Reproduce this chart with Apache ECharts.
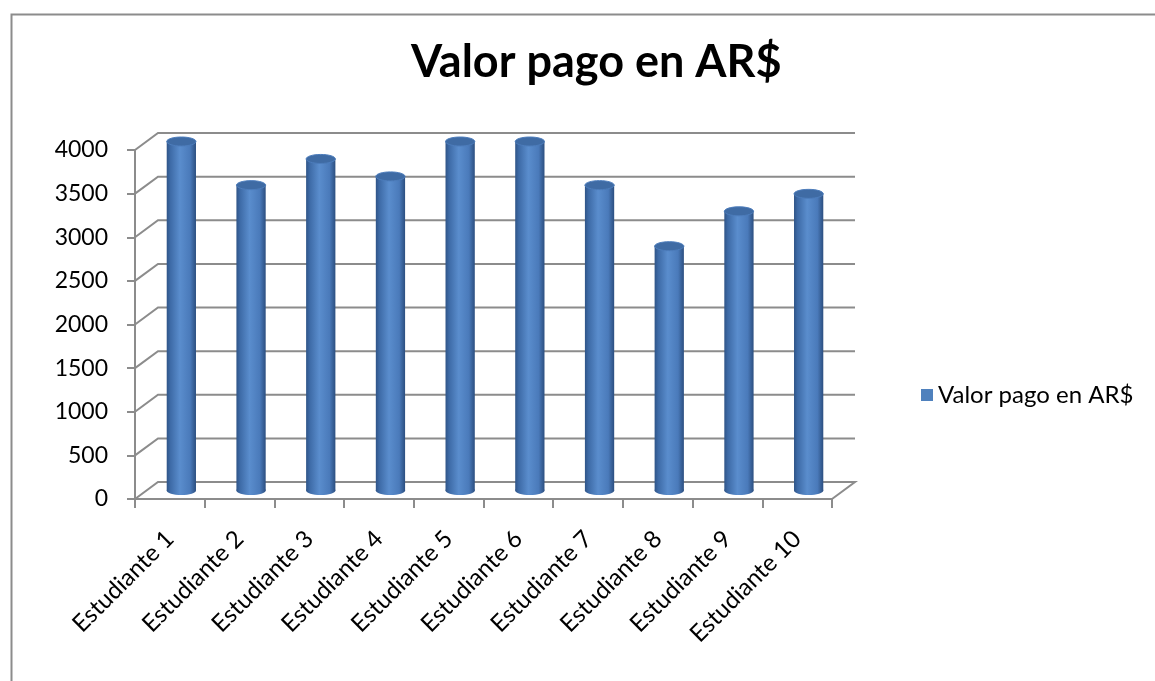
<!DOCTYPE html>
<html lang="es">

<head>
    <meta charset="UTF-8">
    <title>Valor pago en AR$</title>
    <script src="https://cdn.jsdelivr.net/npm/echarts@6/dist/echarts.min.js"></script>
</head>

<body style="margin:0">

    <div id='main' style="width: 1155px;height: 681px;"></div>

    <script>
        // datos
        var categorias = ['Estudiante 1', 'Estudiante 2', 'Estudiante 3', 'Estudiante 4', 'Estudiante 5',
            'Estudiante 6', 'Estudiante 7', 'Estudiante 8', 'Estudiante 9', 'Estudiante 10'];
        var valores = [4000, 3500, 3800, 3600, 4000, 4000, 3500, 2800, 3200, 3400];
        var ticksY = [0, 500, 1000, 1500, 2000, 2500, 3000, 3500, 4000];
        var nombreSerie = 'Valor pago en AR$';

        // profundidad 3D (px)
        var DX = 23, DY = 17;
        var fuente = 'Lato, "Open Sans", sans-serif';

        var myChart = echarts.init(document.getElementById('main'));

        // paredes / lineas de fondo
        function dibujarRejilla(params, api) {
            var v = api.value(0);
            var n = categorias.length;
            var a = api.coord([0, v]);
            var b = api.coord([n, v]);
            var puntos = [a, [a[0] + DX, a[1] - DY], [b[0] + DX, b[1] - DY]];
            if (v === 0) {
                puntos.push(b);
            }
            return {
                type: 'polyline',
                shape: { points: puntos },
                style: { stroke: '#8c8c8c', lineWidth: 2, fill: null }
            };
        }

        // cilindros
        function dibujarCilindro(params, api) {
            var i = api.value(0);
            var v = api.value(1);
            var top = api.coord([i + 0.5, v]);
            var base = api.coord([i + 0.5, 0]);
            var banda = api.size([1, 0])[0];
            var rx = banda * 0.21;
            var ry = 4.5;
            var cx = top[0] + DX / 2;
            var yTop = top[1] - DY / 2;
            var yBase = base[1] - DY / 2;
            var lado = new echarts.graphic.LinearGradient(0, 0, 1, 0, [
                { offset: 0, color: '#2f5487' },
                { offset: 0.12, color: '#3d6aa6' },
                { offset: 0.45, color: '#5a8dcd' },
                { offset: 0.8, color: '#4a7aba' },
                { offset: 1, color: '#2c4f80' }
            ]);
            return {
                type: 'group',
                children: [
                    {
                        type: 'ellipse',
                        shape: { cx: cx, cy: yBase, rx: rx, ry: ry },
                        style: { fill: lado }
                    },
                    {
                        type: 'rect',
                        shape: { x: cx - rx, y: yTop, width: rx * 2, height: yBase - yTop },
                        style: { fill: lado }
                    },
                    {
                        type: 'ellipse',
                        shape: { cx: cx, cy: yTop, rx: rx, ry: ry },
                        style: { fill: '#3f6ba4', stroke: '#4d7dbc', lineWidth: 1 }
                    }
                ]
            };
        }

        var datosBarras = valores.map(function (v, i) { return [i, v]; });

        var option = {
            backgroundColor: '#fff',
            title: {
                text: nombreSerie,
                left: 406,
                top: 35,
                textStyle: { fontFamily: fuente, fontSize: 45, fontWeight: 'bold', color: '#000' }
            },
            legend: {
                data: [nombreSerie],
                orient: 'vertical',
                left: 916,
                top: 378,
                icon: 'rect',
                itemWidth: 12,
                itemHeight: 12,
                itemGap: 6,
                textStyle: { fontFamily: fuente, fontSize: 24, color: '#000' }
            },
            graphic: [{
                type: 'rect',
                left: 9,
                top: 12,
                shape: { width: 1200, height: 700 },
                style: { fill: null, stroke: '#8c8c8c', lineWidth: 2 }
            }],
            grid: { left: 135, right: 323, top: 150, bottom: 182 },
            xAxis: [{
                type: 'category',
                data: categorias,
                axisLine: { lineStyle: { color: '#8c8c8c', width: 2 } },
                axisTick: { show: true, interval: 0, length: 9, lineStyle: { color: '#8c8c8c', width: 2 } },
                axisLabel: { interval: 0, rotate: 45, margin: 36, fontFamily: fuente, fontSize: 24, color: '#000' }
            }, {
                type: 'value',
                min: 0,
                max: categorias.length,
                show: false
            }],
            yAxis: {
                type: 'value',
                min: 0,
                max: 4000,
                interval: 500,
                axisLine: { show: true, lineStyle: { color: '#8c8c8c', width: 2 } },
                axisTick: { show: true, length: 8, lineStyle: { color: '#8c8c8c', width: 2 } },
                splitLine: { show: false },
                axisLabel: {
                    margin: 27, fontFamily: fuente, fontSize: 23, color: '#000',
                    formatter: function (v) { return String(v); }
                }
            },
            series: [{
                name: 'rejilla',
                type: 'custom',
                xAxisIndex: 1,
                silent: true,
                z: 1,
                renderItem: dibujarRejilla,
                data: ticksY.map(function (t) { return [t]; }),
                encode: { y: 0 }
            }, {
                name: nombreSerie,
                type: 'custom',
                xAxisIndex: 1,
                z: 3,
                itemStyle: { color: '#4f81bd' },
                renderItem: dibujarCilindro,
                data: datosBarras,
                encode: { x: 0, y: 1 }
            }]
        };

        myChart.setOption(option);
    </script>
</body>

</html>
